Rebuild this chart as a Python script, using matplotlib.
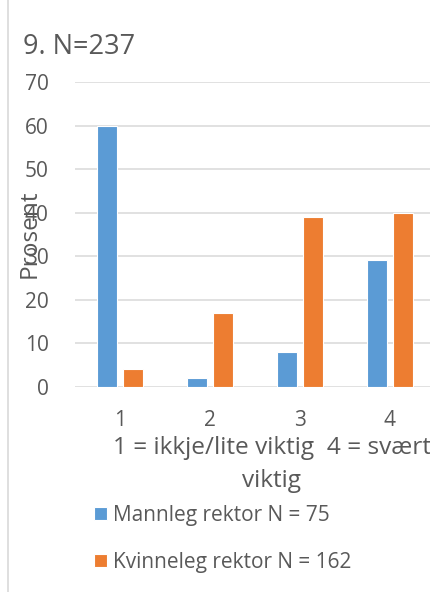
import matplotlib
matplotlib.use("Agg")
import matplotlib.pyplot as plt
from matplotlib.lines import Line2D
import numpy as np

# Survey data (percent)
categories = ["1", "2", "3", "4"]
series_names = ["Mannleg rektor N = 75", "Kvinneleg rektor N = 162"]
mannleg = [60, 2, 8, 29]
kvinneleg = [4, 17, 39, 40]
colors = ["#5B9BD5", "#ED7D31"]

title = "9. N=237"
ylabel = "Prosent"
xlabel_lines = ["1 = ikkje/lite viktig  4 = svært", "viktig"]

plt.rcParams["font.family"] = ["Open Sans", "DejaVu Sans"]
txt = "#595959"
fs = 15
fs_lab = 17.6

W, H = 431, 592
fig = plt.figure(figsize=(W / 100, H / 100), dpi=100)
fig.patch.set_facecolor("white")

# plot area in pixel terms
left, right, top, bottom = 75, 435, 82, 386.7
ax = fig.add_axes([left / W, 1 - bottom / H, (right - left) / W, (bottom - top) / H])

x = np.arange(1, len(categories) + 1)
bw = 0.225
off = 0.142
b1 = ax.bar(x - off, mannleg, bw, color=colors[0], edgecolor="white", linewidth=0.8, zorder=3,
            label=series_names[0])
b2 = ax.bar(x + off, kvinneleg, bw, color=colors[1], edgecolor="white", linewidth=0.8, zorder=3,
            label=series_names[1])

ax.set_xlim(0.5, 4.5)
ax.set_ylim(0, 70)
ax.set_yticks(np.arange(0, 71, 10))
ax.set_xticks(x)
ax.set_xticklabels(categories)
ax.yaxis.grid(True, color="#D9D9D9", linewidth=1.1, zorder=0)
ax.set_axisbelow(True)
for s in ax.spines.values():
    s.set_visible(False)
ax.tick_params(axis="both", length=0, labelsize=fs, colors=txt)
ax.tick_params(axis="y", pad=19)
ax.tick_params(axis="x", pad=17)

fig.text(30 / W, 1 - 234 / H, ylabel, rotation=90, ha="center", va="center",
         fontsize=fs_lab, color=txt)

fig.text(23 / W, 1 - 54 / H, title, ha="left", va="baseline", fontsize=19.5, color=txt)

fig.text(272 / W, 1 - 454 / H, xlabel_lines[0], ha="center", va="baseline", fontsize=fs_lab, color=txt)
fig.text(272 / W, 1 - 487 / H, xlabel_lines[1], ha="center", va="baseline", fontsize=fs_lab, color=txt)

leg = fig.legend(handles=[b1, b2], labels=series_names, loc="upper left",
                 bbox_to_anchor=(94 / W, 1 - 505 / H), frameon=False, fontsize=fs,
                 handlelength=0.62, handleheight=0.62, handletextpad=0.3,
                 labelspacing=1.25, borderpad=0, borderaxespad=0)
for t in leg.get_texts():
    t.set_color(txt)

# outer frame line on the left
fig.add_artist(Line2D([8.5 / W, 8.5 / W], [0, 1], transform=fig.transFigure,
                      color="#D9D9D9", linewidth=1.2))

fig.savefig("out.png", dpi=100)
